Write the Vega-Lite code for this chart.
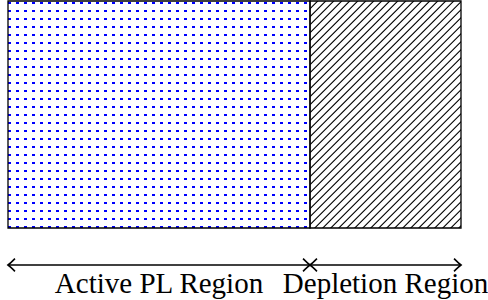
{
  "$schema": "https://vega.github.io/schema/vega-lite/v6.json",
  "width": 453,
  "height": 227,
  "autosize": {"type": "none"},
  "padding": {"left": 8, "right": 27, "top": 1, "bottom": 72},
  "config": {"view": {"stroke": null}},
  "data": {"values": [
    {"region": "Active PL Region", "start": 0, "end": 2},
    {"region": "Depletion Region", "start": 2, "end": 3}
  ]},
  "layer": [
    {
      "transform": [{"filter": "datum.region === 'Depletion Region'"}],
      "mark": {"type": "rule", "clip": true, "stroke": "#000", "strokeWidth": 324, "strokeCap": "butt", "strokeDash": [1.1, 4.557], "strokeDashOffset": 0.707},
      "encoding": {
        "x": {"field": "start", "type": "quantitative", "scale": {"domain": [0, 3], "nice": false, "zero": false}, "axis": null},
        "x2": {"datum": 3.50331},
        "y": {"datum": 1, "type": "quantitative", "scale": {"domain": [0, 1], "nice": false}, "axis": null},
        "y2": {"datum": 0}
      }
    },
    {
      "transform": [{"filter": "datum.region === 'Active PL Region'"}],
      "mark": {"type": "rect", "strokeWidth": 0, "fill": {"gradient": "linear", "x1": 0, "y1": 0, "x2": 1, "y2": 0, "stops": [
        {"offset": 0, "color": "#00f"}, {"offset": 0.008609, "color": "#00f"}, {"offset": 0.008609, "color": "#fff"},
        {"offset": 0.02649, "color": "#fff"}, {"offset": 0.02649, "color": "#00f"}, {"offset": 0.035099, "color": "#00f"}, {"offset": 0.035099, "color": "#fff"},
        {"offset": 0.05298, "color": "#fff"}, {"offset": 0.05298, "color": "#00f"}, {"offset": 0.061589, "color": "#00f"}, {"offset": 0.061589, "color": "#fff"},
        {"offset": 0.07947, "color": "#fff"}, {"offset": 0.07947, "color": "#00f"}, {"offset": 0.088079, "color": "#00f"}, {"offset": 0.088079, "color": "#fff"},
        {"offset": 0.10596, "color": "#fff"}, {"offset": 0.10596, "color": "#00f"}, {"offset": 0.114569, "color": "#00f"}, {"offset": 0.114569, "color": "#fff"},
        {"offset": 0.13245, "color": "#fff"}, {"offset": 0.13245, "color": "#00f"}, {"offset": 0.141059, "color": "#00f"}, {"offset": 0.141059, "color": "#fff"},
        {"offset": 0.15894, "color": "#fff"}, {"offset": 0.15894, "color": "#00f"}, {"offset": 0.167549, "color": "#00f"}, {"offset": 0.167549, "color": "#fff"},
        {"offset": 0.18543, "color": "#fff"}, {"offset": 0.18543, "color": "#00f"}, {"offset": 0.194039, "color": "#00f"}, {"offset": 0.194039, "color": "#fff"},
        {"offset": 0.211921, "color": "#fff"}, {"offset": 0.211921, "color": "#00f"}, {"offset": 0.22053, "color": "#00f"}, {"offset": 0.22053, "color": "#fff"},
        {"offset": 0.238411, "color": "#fff"}, {"offset": 0.238411, "color": "#00f"}, {"offset": 0.24702, "color": "#00f"}, {"offset": 0.24702, "color": "#fff"},
        {"offset": 0.264901, "color": "#fff"}, {"offset": 0.264901, "color": "#00f"}, {"offset": 0.27351, "color": "#00f"}, {"offset": 0.27351, "color": "#fff"},
        {"offset": 0.291391, "color": "#fff"}, {"offset": 0.291391, "color": "#00f"}, {"offset": 0.3, "color": "#00f"}, {"offset": 0.3, "color": "#fff"},
        {"offset": 0.317881, "color": "#fff"}, {"offset": 0.317881, "color": "#00f"}, {"offset": 0.32649, "color": "#00f"}, {"offset": 0.32649, "color": "#fff"},
        {"offset": 0.344371, "color": "#fff"}, {"offset": 0.344371, "color": "#00f"}, {"offset": 0.35298, "color": "#00f"}, {"offset": 0.35298, "color": "#fff"},
        {"offset": 0.370861, "color": "#fff"}, {"offset": 0.370861, "color": "#00f"}, {"offset": 0.37947, "color": "#00f"}, {"offset": 0.37947, "color": "#fff"},
        {"offset": 0.397351, "color": "#fff"}, {"offset": 0.397351, "color": "#00f"}, {"offset": 0.40596, "color": "#00f"}, {"offset": 0.40596, "color": "#fff"},
        {"offset": 0.423841, "color": "#fff"}, {"offset": 0.423841, "color": "#00f"}, {"offset": 0.43245, "color": "#00f"}, {"offset": 0.43245, "color": "#fff"},
        {"offset": 0.450331, "color": "#fff"}, {"offset": 0.450331, "color": "#00f"}, {"offset": 0.45894, "color": "#00f"}, {"offset": 0.45894, "color": "#fff"},
        {"offset": 0.476821, "color": "#fff"}, {"offset": 0.476821, "color": "#00f"}, {"offset": 0.48543, "color": "#00f"}, {"offset": 0.48543, "color": "#fff"},
        {"offset": 0.503311, "color": "#fff"}, {"offset": 0.503311, "color": "#00f"}, {"offset": 0.51192, "color": "#00f"}, {"offset": 0.51192, "color": "#fff"},
        {"offset": 0.529801, "color": "#fff"}, {"offset": 0.529801, "color": "#00f"}, {"offset": 0.53841, "color": "#00f"}, {"offset": 0.53841, "color": "#fff"},
        {"offset": 0.556291, "color": "#fff"}, {"offset": 0.556291, "color": "#00f"}, {"offset": 0.5649, "color": "#00f"}, {"offset": 0.5649, "color": "#fff"},
        {"offset": 0.582781, "color": "#fff"}, {"offset": 0.582781, "color": "#00f"}, {"offset": 0.59139, "color": "#00f"}, {"offset": 0.59139, "color": "#fff"},
        {"offset": 0.609272, "color": "#fff"}, {"offset": 0.609272, "color": "#00f"}, {"offset": 0.617881, "color": "#00f"}, {"offset": 0.617881, "color": "#fff"},
        {"offset": 0.635762, "color": "#fff"}, {"offset": 0.635762, "color": "#00f"}, {"offset": 0.644371, "color": "#00f"}, {"offset": 0.644371, "color": "#fff"},
        {"offset": 0.662252, "color": "#fff"}, {"offset": 0.662252, "color": "#00f"}, {"offset": 0.670861, "color": "#00f"}, {"offset": 0.670861, "color": "#fff"},
        {"offset": 0.688742, "color": "#fff"}, {"offset": 0.688742, "color": "#00f"}, {"offset": 0.697351, "color": "#00f"}, {"offset": 0.697351, "color": "#fff"},
        {"offset": 0.715232, "color": "#fff"}, {"offset": 0.715232, "color": "#00f"}, {"offset": 0.723841, "color": "#00f"}, {"offset": 0.723841, "color": "#fff"},
        {"offset": 0.741722, "color": "#fff"}, {"offset": 0.741722, "color": "#00f"}, {"offset": 0.750331, "color": "#00f"}, {"offset": 0.750331, "color": "#fff"},
        {"offset": 0.768212, "color": "#fff"}, {"offset": 0.768212, "color": "#00f"}, {"offset": 0.776821, "color": "#00f"}, {"offset": 0.776821, "color": "#fff"},
        {"offset": 0.794702, "color": "#fff"}, {"offset": 0.794702, "color": "#00f"}, {"offset": 0.803311, "color": "#00f"}, {"offset": 0.803311, "color": "#fff"},
        {"offset": 0.821192, "color": "#fff"}, {"offset": 0.821192, "color": "#00f"}, {"offset": 0.829801, "color": "#00f"}, {"offset": 0.829801, "color": "#fff"},
        {"offset": 0.847682, "color": "#fff"}, {"offset": 0.847682, "color": "#00f"}, {"offset": 0.856291, "color": "#00f"}, {"offset": 0.856291, "color": "#fff"},
        {"offset": 0.874172, "color": "#fff"}, {"offset": 0.874172, "color": "#00f"}, {"offset": 0.882781, "color": "#00f"}, {"offset": 0.882781, "color": "#fff"},
        {"offset": 0.900662, "color": "#fff"}, {"offset": 0.900662, "color": "#00f"}, {"offset": 0.909271, "color": "#00f"}, {"offset": 0.909271, "color": "#fff"},
        {"offset": 0.927152, "color": "#fff"}, {"offset": 0.927152, "color": "#00f"}, {"offset": 0.935761, "color": "#00f"}, {"offset": 0.935761, "color": "#fff"},
        {"offset": 0.953642, "color": "#fff"}, {"offset": 0.953642, "color": "#00f"}, {"offset": 0.962251, "color": "#00f"}, {"offset": 0.962251, "color": "#fff"},
        {"offset": 0.980132, "color": "#fff"}, {"offset": 0.980132, "color": "#00f"}, {"offset": 0.988741, "color": "#00f"}, {"offset": 0.988741, "color": "#fff"},
        {"offset": 1, "color": "#fff"}
      ]}},
      "encoding": {
        "x": {"field": "start", "type": "quantitative", "scale": {"domain": [0, 3], "nice": false, "zero": false}, "axis": null},
        "x2": {"field": "end"},
        "y": {"datum": 1, "type": "quantitative", "scale": {"domain": [0, 1], "nice": false}, "axis": null},
        "y2": {"datum": 0}
      }
    },
    {
      "transform": [{"filter": "datum.region === 'Active PL Region'"}],
      "mark": {"type": "rect", "strokeWidth": 0, "fill": {"gradient": "linear", "x1": 0, "y1": 0, "x2": 0, "y2": 1, "stops": [
        {"offset": 0, "color": "#fff"},
        {"offset": 0.003084, "color": "#fff"}, {"offset": 0.003084, "color": "rgba(255,255,255,0)"}, {"offset": 0.014537, "color": "rgba(255,255,255,0)"}, {"offset": 0.014537, "color": "#fff"},
        {"offset": 0.038326, "color": "#fff"}, {"offset": 0.038326, "color": "rgba(255,255,255,0)"}, {"offset": 0.049779, "color": "rgba(255,255,255,0)"}, {"offset": 0.049779, "color": "#fff"},
        {"offset": 0.073568, "color": "#fff"}, {"offset": 0.073568, "color": "rgba(255,255,255,0)"}, {"offset": 0.085022, "color": "rgba(255,255,255,0)"}, {"offset": 0.085022, "color": "#fff"},
        {"offset": 0.10881, "color": "#fff"}, {"offset": 0.10881, "color": "rgba(255,255,255,0)"}, {"offset": 0.120264, "color": "rgba(255,255,255,0)"}, {"offset": 0.120264, "color": "#fff"},
        {"offset": 0.144053, "color": "#fff"}, {"offset": 0.144053, "color": "rgba(255,255,255,0)"}, {"offset": 0.155506, "color": "rgba(255,255,255,0)"}, {"offset": 0.155506, "color": "#fff"},
        {"offset": 0.179295, "color": "#fff"}, {"offset": 0.179295, "color": "rgba(255,255,255,0)"}, {"offset": 0.190749, "color": "rgba(255,255,255,0)"}, {"offset": 0.190749, "color": "#fff"},
        {"offset": 0.214537, "color": "#fff"}, {"offset": 0.214537, "color": "rgba(255,255,255,0)"}, {"offset": 0.225991, "color": "rgba(255,255,255,0)"}, {"offset": 0.225991, "color": "#fff"},
        {"offset": 0.24978, "color": "#fff"}, {"offset": 0.24978, "color": "rgba(255,255,255,0)"}, {"offset": 0.261233, "color": "rgba(255,255,255,0)"}, {"offset": 0.261233, "color": "#fff"},
        {"offset": 0.285022, "color": "#fff"}, {"offset": 0.285022, "color": "rgba(255,255,255,0)"}, {"offset": 0.296476, "color": "rgba(255,255,255,0)"}, {"offset": 0.296476, "color": "#fff"},
        {"offset": 0.320264, "color": "#fff"}, {"offset": 0.320264, "color": "rgba(255,255,255,0)"}, {"offset": 0.331718, "color": "rgba(255,255,255,0)"}, {"offset": 0.331718, "color": "#fff"},
        {"offset": 0.355507, "color": "#fff"}, {"offset": 0.355507, "color": "rgba(255,255,255,0)"}, {"offset": 0.36696, "color": "rgba(255,255,255,0)"}, {"offset": 0.36696, "color": "#fff"},
        {"offset": 0.390749, "color": "#fff"}, {"offset": 0.390749, "color": "rgba(255,255,255,0)"}, {"offset": 0.402203, "color": "rgba(255,255,255,0)"}, {"offset": 0.402203, "color": "#fff"},
        {"offset": 0.425991, "color": "#fff"}, {"offset": 0.425991, "color": "rgba(255,255,255,0)"}, {"offset": 0.437445, "color": "rgba(255,255,255,0)"}, {"offset": 0.437445, "color": "#fff"},
        {"offset": 0.461234, "color": "#fff"}, {"offset": 0.461234, "color": "rgba(255,255,255,0)"}, {"offset": 0.472687, "color": "rgba(255,255,255,0)"}, {"offset": 0.472687, "color": "#fff"},
        {"offset": 0.496476, "color": "#fff"}, {"offset": 0.496476, "color": "rgba(255,255,255,0)"}, {"offset": 0.50793, "color": "rgba(255,255,255,0)"}, {"offset": 0.50793, "color": "#fff"},
        {"offset": 0.531718, "color": "#fff"}, {"offset": 0.531718, "color": "rgba(255,255,255,0)"}, {"offset": 0.543172, "color": "rgba(255,255,255,0)"}, {"offset": 0.543172, "color": "#fff"},
        {"offset": 0.566961, "color": "#fff"}, {"offset": 0.566961, "color": "rgba(255,255,255,0)"}, {"offset": 0.578414, "color": "rgba(255,255,255,0)"}, {"offset": 0.578414, "color": "#fff"},
        {"offset": 0.602203, "color": "#fff"}, {"offset": 0.602203, "color": "rgba(255,255,255,0)"}, {"offset": 0.613656, "color": "rgba(255,255,255,0)"}, {"offset": 0.613656, "color": "#fff"},
        {"offset": 0.637445, "color": "#fff"}, {"offset": 0.637445, "color": "rgba(255,255,255,0)"}, {"offset": 0.648899, "color": "rgba(255,255,255,0)"}, {"offset": 0.648899, "color": "#fff"},
        {"offset": 0.672687, "color": "#fff"}, {"offset": 0.672687, "color": "rgba(255,255,255,0)"}, {"offset": 0.684141, "color": "rgba(255,255,255,0)"}, {"offset": 0.684141, "color": "#fff"},
        {"offset": 0.70793, "color": "#fff"}, {"offset": 0.70793, "color": "rgba(255,255,255,0)"}, {"offset": 0.719383, "color": "rgba(255,255,255,0)"}, {"offset": 0.719383, "color": "#fff"},
        {"offset": 0.743172, "color": "#fff"}, {"offset": 0.743172, "color": "rgba(255,255,255,0)"}, {"offset": 0.754626, "color": "rgba(255,255,255,0)"}, {"offset": 0.754626, "color": "#fff"},
        {"offset": 0.778414, "color": "#fff"}, {"offset": 0.778414, "color": "rgba(255,255,255,0)"}, {"offset": 0.789868, "color": "rgba(255,255,255,0)"}, {"offset": 0.789868, "color": "#fff"},
        {"offset": 0.813657, "color": "#fff"}, {"offset": 0.813657, "color": "rgba(255,255,255,0)"}, {"offset": 0.82511, "color": "rgba(255,255,255,0)"}, {"offset": 0.82511, "color": "#fff"},
        {"offset": 0.848899, "color": "#fff"}, {"offset": 0.848899, "color": "rgba(255,255,255,0)"}, {"offset": 0.860352, "color": "rgba(255,255,255,0)"}, {"offset": 0.860352, "color": "#fff"},
        {"offset": 0.884141, "color": "#fff"}, {"offset": 0.884141, "color": "rgba(255,255,255,0)"}, {"offset": 0.895595, "color": "rgba(255,255,255,0)"}, {"offset": 0.895595, "color": "#fff"},
        {"offset": 0.919383, "color": "#fff"}, {"offset": 0.919383, "color": "rgba(255,255,255,0)"}, {"offset": 0.930837, "color": "rgba(255,255,255,0)"}, {"offset": 0.930837, "color": "#fff"},
        {"offset": 0.954626, "color": "#fff"}, {"offset": 0.954626, "color": "rgba(255,255,255,0)"}, {"offset": 0.966079, "color": "rgba(255,255,255,0)"}, {"offset": 0.966079, "color": "#fff"},
        {"offset": 0.989868, "color": "#fff"}, {"offset": 0.989868, "color": "rgba(255,255,255,0)"}, {"offset": 1, "color": "rgba(255,255,255,0)"}
      ]}},
      "encoding": {
        "x": {"field": "start", "type": "quantitative", "scale": {"domain": [0, 3], "nice": false, "zero": false}, "axis": null},
        "x2": {"field": "end"},
        "y": {"datum": 1, "type": "quantitative", "scale": {"domain": [0, 1], "nice": false}, "axis": null},
        "y2": {"datum": 0}
      }
    },
    {
      "mark": {"type": "rect", "fill": "#fff", "fillOpacity": 0, "stroke": "#000", "strokeWidth": 1.3},
      "encoding": {
        "x": {"field": "start", "type": "quantitative", "scale": {"domain": [0, 3], "nice": false, "zero": false}, "axis": null},
        "x2": {"field": "end"},
        "y": {"datum": 1, "type": "quantitative", "scale": {"domain": [0, 1], "nice": false}, "axis": null},
        "y2": {"datum": 0}
      }
    },
    {
      "mark": {"type": "rule", "stroke": "#000", "strokeWidth": 1.6},
      "encoding": {
        "x": {"field": "start", "type": "quantitative", "scale": {"domain": [0, 3], "nice": false, "zero": false}, "axis": null},
        "x2": {"field": "end"},
        "y": {"datum": -0.163, "type": "quantitative", "scale": {"domain": [0, 1], "nice": false}, "axis": null}
      }
    },
    {
      "mark": {"type": "point", "shape": "M 1.1 -1 Q 0.35 -0.25 0 0 Q 0.35 0.25 1.1 1", "filled": false, "stroke": "#000", "strokeWidth": 1.6, "size": 160, "opacity": 1},
      "encoding": {
        "x": {"field": "start", "type": "quantitative", "scale": {"domain": [0, 3], "nice": false, "zero": false}, "axis": null},
        "y": {"datum": -0.163, "type": "quantitative", "scale": {"domain": [0, 1], "nice": false}, "axis": null}
      }
    },
    {
      "mark": {"type": "point", "shape": "M -1.1 -1 Q -0.35 -0.25 0 0 Q -0.35 0.25 -1.1 1", "filled": false, "stroke": "#000", "strokeWidth": 1.6, "size": 160, "opacity": 1},
      "encoding": {
        "x": {"field": "end", "type": "quantitative", "scale": {"domain": [0, 3], "nice": false, "zero": false}, "axis": null},
        "y": {"datum": -0.163, "type": "quantitative", "scale": {"domain": [0, 1], "nice": false}, "axis": null}
      }
    },
    {
      "transform": [{"fold": ["start", "end"], "as": ["k", "v"]}],
      "mark": {"type": "text", "font": "Liberation Serif", "fontSize": 29, "baseline": "alphabetic", "align": "center", "color": "#000"},
      "encoding": {
        "x": {"field": "v", "aggregate": "mean", "type": "quantitative", "scale": {"domain": [0, 3], "nice": false, "zero": false}, "axis": null},
        "y": {"datum": -0.2885, "type": "quantitative", "scale": {"domain": [0, 1], "nice": false}, "axis": null},
        "text": {"field": "region"}
      }
    }
  ]
}
